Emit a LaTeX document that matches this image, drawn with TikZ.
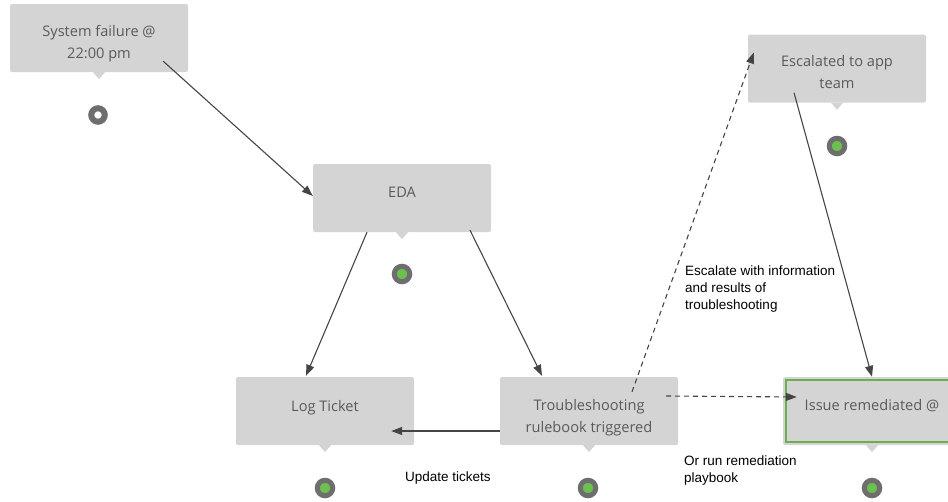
\documentclass[tikz,border=0pt]{standalone}
\usepackage{fontspec}
\setmainfont{Liberation Sans}
\newfontfamily\boxfont{Open Sans}
\usetikzlibrary{calc,arrows.meta}
\definecolor{boxgray}{HTML}{D4D4D4}
\definecolor{boxtextc}{HTML}{5A5A5A}
\definecolor{linec}{HTML}{454545}
\definecolor{ringc}{HTML}{6E6E6E}
\definecolor{dotgreen}{HTML}{6CC04F}
\definecolor{bordergreen}{HTML}{6AAE4F}
\tikzset{
  box/.style={fill=boxgray, rounded corners=2pt, minimum width=178pt, minimum height=68pt, inner sep=0pt},
  boxtext/.style={font=\boxfont\fontsize{14.6pt}{22pt}\selectfont, text=boxtextc, align=center, anchor=north, inner sep=0pt},
  lbl/.style={font=\fontsize{13.5pt}{16.8pt}\selectfont, text=black, align=left, anchor=north west, inner sep=0pt},
  ring/.style={circle, draw=ringc, line width=6pt, minimum size=13.5pt, inner sep=0pt, fill=white},
  gring/.style={circle, draw=ringc, line width=5pt, minimum size=15.5pt, inner sep=0pt, fill=dotgreen},
  conn/.style={draw=linec, line width=1.1pt, -{Triangle[length=11pt,width=8pt]}},
  dconn/.style={conn, dash pattern=on 5pt off 4pt},
}
\begin{document}
\begin{tikzpicture}[x=1pt,y=-1pt]
\useasboundingbox (0,0) rectangle (948,501);
\clip (0,0) rectangle (948,501);
% boxes
\node[box] (sys) at (99,38) {};
\node[box] (eda) at (402,198) {};
\node[box] (esc) at (837,68.5) {};
\node[box] (log) at (325,411) {};
\node[box] (ts) at (589,411) {};
\node[box] (iss) at (872,411) {};
\draw[bordergreen, line width=1.5pt] ($(iss.north west)+(3,3)$) rectangle ($(iss.south east)+(-3,-3)$);
% pointers
\foreach \n in {sys,eda,esc,log,ts,iss}{
  \fill[boxgray] ($(\n.south)+(-6,0)$) -- ($(\n.south)+(0,7)$) -- ($(\n.south)+(6,0)$) -- cycle;
}
% box texts
\node[boxtext] (tsys) at ($(sys.north)+(0,21)$) {System failure @\\22:00 pm};
\node[boxtext] (teda) at ($(eda.north)+(0,23)$) {EDA};
\node[boxtext] (tesc) at ($(esc.north)+(0,21)$) {Escalated to app\\team};
\node[boxtext] (tlog) at ($(log.north)+(0,23)$) {Log Ticket};
\node[boxtext] (tts) at ($(ts.north)+(0,22)$) {Troubleshooting\\rulebook triggered};
\node[boxtext] (tiss) at ($(iss.north)+(0,22)$) {Issue remediated @};
% status dots
\node[ring] (d1) at (98,115) {};
\node[gring] (d2) at (402,274) {};
\node[gring] (d3) at (837,146) {};
\node[gring] (d4) at (325,488) {};
\node[gring] (d5) at (588,488) {};
\node[gring] (d6) at (872,488) {};
% connectors
\draw[conn] ($(sys.south east)+(-25,-11)$) -- ($(eda.west)+(0,-2)$);
\draw[conn] ($(eda.south)+(-35,0)$) -- ($(log.north)+(-19,-1)$);
\draw[conn] ($(eda.south)+(68,-2)$) -- ($(ts.north)+(-47,-1)$);
\draw[conn] ($(ts.west)+(0,20)$) -- ($(log.east)+(-23,20)$);
\draw[dconn] ($(ts.north)+(43,15)$) -- ($(esc.west)+(6,-16)$);
\draw[dconn] ($(ts.east)+(-12,-15)$) -- ($(iss.west)+(14,-14)$);
\draw[conn] ($(esc.south)+(-43,-10)$) -- (iss.north);
% labels
\node[lbl] (l1) at (405,472) {Update tickets};
\node[lbl] (l2) at (685,266) {Escalate with information\\and results of\\troubleshooting};
\node[lbl] (l3) at (684,456) {Or run remediation\\playbook};
\end{tikzpicture}
\end{document}
